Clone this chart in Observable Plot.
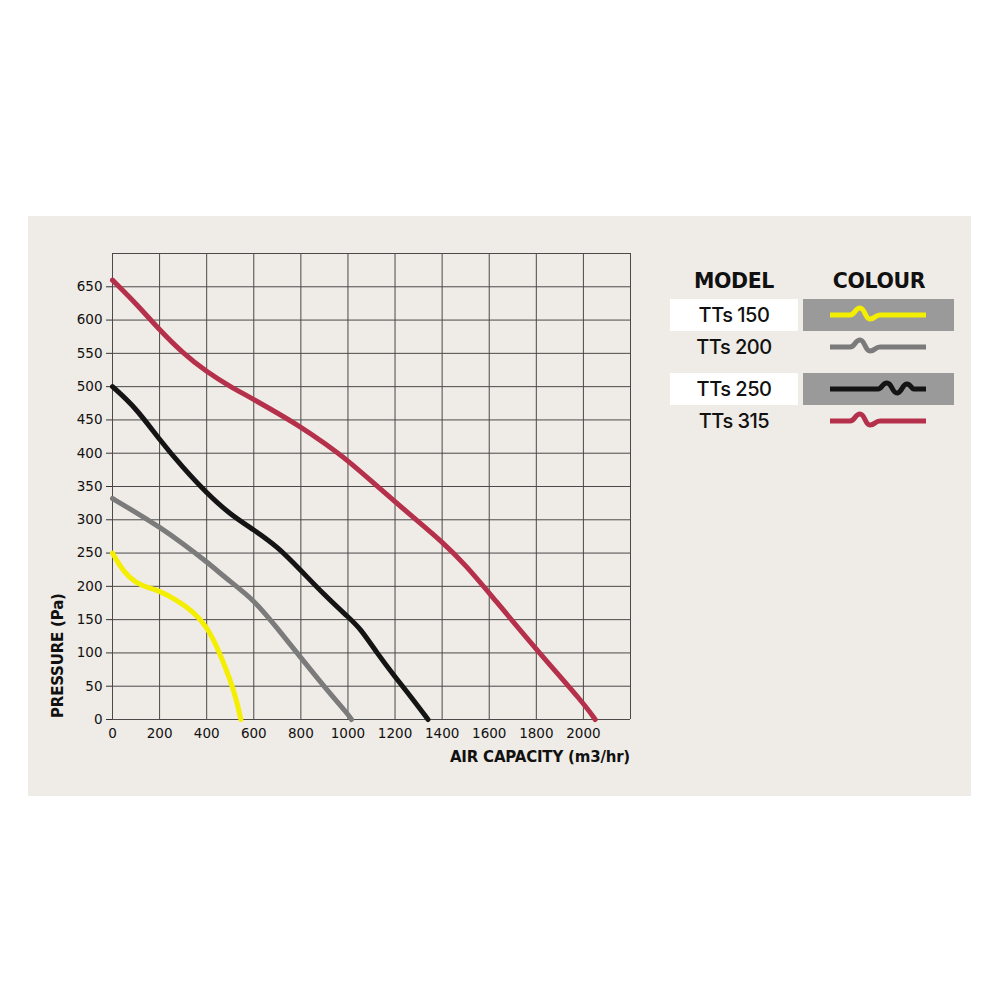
<!DOCTYPE html>
<html>
<head>
<meta charset="utf-8">
<script src="https://cdn.jsdelivr.net/npm/d3@7"></script>
<script src="https://cdn.jsdelivr.net/npm/@observablehq/plot@0.6"></script>
<style>
  html, body { margin: 0; padding: 0; background: #ffffff; width: 1000px; height: 1000px; overflow: hidden; font-family: "Inter", "Noto Sans", sans-serif; }
  #panel { position: absolute; left: 28px; top: 216px; width: 943px; height: 580px; background: #efebe6; }
  #chart { position: absolute; left: 28px; top: 216px; }
  .axtitle { position: absolute; font-family: "DejaVu Sans", sans-serif; font-weight: 700; font-size: 15px; color: #111; white-space: nowrap; letter-spacing: -0.2px; }
  #ytitle { left: 50px; top: 718px; transform-origin: 0 0; transform: rotate(-90deg); line-height: 16px; }
  #xtitle { right: 370px; top: 748px; line-height: 18px; }
  #legend { position: absolute; left: 670px; top: 268px; width: 284px; }
  .lhead { position: absolute; font-family: "DejaVu Sans", sans-serif; font-weight: 700; font-size: 20.5px; color: #111; top: 0; transform: translateX(-50%); letter-spacing: -0.4px; line-height: 26px; }
  .lrow { position: absolute; left: 0; width: 284px; height: 32px; }
  .lname { position: absolute; left: 0; width: 128px; height: 32px; line-height: 32px; text-align: center; font-size: 20px; font-weight: 500; color: #111; letter-spacing: -0.5px; }
  .lbox { position: absolute; left: 133px; width: 151px; height: 32px; }
  .lrow.hl .lname { background: #ffffff; }
  .lrow.hl .lbox { background: #9a9a9a; }
  .lbox svg { position: absolute; left: 25px; top: 6px; }
</style>
</head>
<body>
<div id="panel"></div>
<div id="chart"></div>
<div class="axtitle" id="ytitle">PRESSURE (Pa)</div>
<div class="axtitle" id="xtitle">AIR CAPACITY (m3/hr)</div>
<div id="legend"></div>
<script>
// ---- Data ----
const models = ["TTs 150", "TTs 200", "TTs 250", "TTs 315"];
const colours = ["#f4ee00", "#7b7b7b", "#141414", "#b5304a"];
const highlighted = ["TTs 150", "TTs 250"];

const tts150 = [[0,250],[50,220],[100,205],[150,198],[200,193],[270,180],[340,163],[400,140],[450,105],[500,60],[530,25],[545,0]];
const tts200 = [[0,332],[100,311],[200,289],[300,264],[400,237],[500,207],[600,180],[700,137],[800,93],[900,49],[1000,8],[1015,0]];
const tts250 = [[0,500],[100,468],[200,420],[300,378],[400,340],[500,308],[600,285],[700,260],[800,224],[900,187],[1000,154],[1050,138],[1125,99],[1200,64],[1270,33],[1340,0]];
const tts315 = [[0,660],[100,625],[200,585],[300,550],[400,522],[500,500],[600,481],[800,440],[900,415],[1000,389],[1100,358],[1200,327],[1300,297],[1400,267],[1500,232],[1600,190],[1800,105],[2000,25],[2050,0]];

const xTicks = [0,200,400,600,800,1000,1200,1400,1600,1800,2000];
const yTicks = [0,50,100,150,200,250,300,350,400,450,500,550,600,650];
const xGrid = [0,200,400,600,800,1000,1200,1400,1600,1800,2000,2200];
const yGrid = [0,50,100,150,200,250,300,350,400,450,500,550,600,650,700];

const series = [tts150, tts200, tts250, tts315];
const rows = series.flatMap((s, i) => s.map(([x, y]) => ({model: models[i], x, y})));

// ---- Chart ----
const chart = Plot.plot({
  width: 620,
  height: 560,
  marginLeft: 84,
  marginTop: 37,
  marginRight: 18,
  marginBottom: 57,
  style: {background: "transparent", fontFamily: "'DejaVu Sans', sans-serif", fontSize: "13.5px", color: "#111"},
  x: {domain: [0, 2200]},
  y: {domain: [0, 700]},
  color: {domain: models, range: colours},
  marks: [
    Plot.gridX(xGrid, {stroke: "#4a4a4a", strokeOpacity: 1, strokeWidth: 1}),
    Plot.gridY(yGrid, {stroke: "#4a4a4a", strokeOpacity: 1, strokeWidth: 1}),
    Plot.axisX({ticks: xTicks, tickSize: 0, tickPadding: 9, label: null, tickFormat: d => String(d)}),
    Plot.axisY({ticks: yTicks, tickSize: 6, tickPadding: 4, label: null, tickFormat: d => String(d), stroke: "#333"}),
    Plot.line(rows, {x: "x", y: "y", z: "model", stroke: "model", strokeWidth: 5, curve: "basis", strokeLinejoin: "round"})
  ]
});
document.getElementById("chart").appendChild(chart);

// ---- Legend ----
const legend = document.getElementById("legend");
const h1 = document.createElement("div"); h1.className = "lhead"; h1.style.left = "64px"; h1.textContent = "MODEL"; legend.appendChild(h1);
const h2 = document.createElement("div"); h2.className = "lhead"; h2.style.left = "209px"; h2.textContent = "COLOUR"; legend.appendChild(h2);
const rowTops = [31, 63, 105, 137];
const wiggles = [
  "M2 10 L22 10 C27 10 27 3 32 3 C37 3 37 14 42 14 C47 14 47 10 52 10 L98 10",
  "M2 10 L22 10 C27 10 27 3 32 3 C37 3 37 14 42 14 C47 14 47 10 52 10 L98 10",
  "M2 10 L50 10 C54 10 54 4 59 4 C64 4 64 14 69 14 C74 14 74 5 79 5 C83 5 83 10 86 10 L98 10",
  "M2 10 L22 10 C27 10 27 3 32 3 C37 3 37 14 42 14 C47 14 47 10 52 10 L98 10"
];
models.forEach((m, i) => {
  const row = document.createElement("div");
  row.className = "lrow" + (highlighted.includes(m) ? " hl" : "");
  row.style.top = rowTops[i] + "px";
  const name = document.createElement("div"); name.className = "lname"; name.textContent = m; row.appendChild(name);
  const box = document.createElement("div"); box.className = "lbox"; box.style.top = "0px";
  box.innerHTML = `<svg width="100" height="20" viewBox="0 0 100 20"><path d="${wiggles[i]}" fill="none" stroke="${colours[i]}" stroke-width="5" stroke-linejoin="round"/></svg>`;
  row.appendChild(box);
  legend.appendChild(row);
});
</script>
</body>
</html>
